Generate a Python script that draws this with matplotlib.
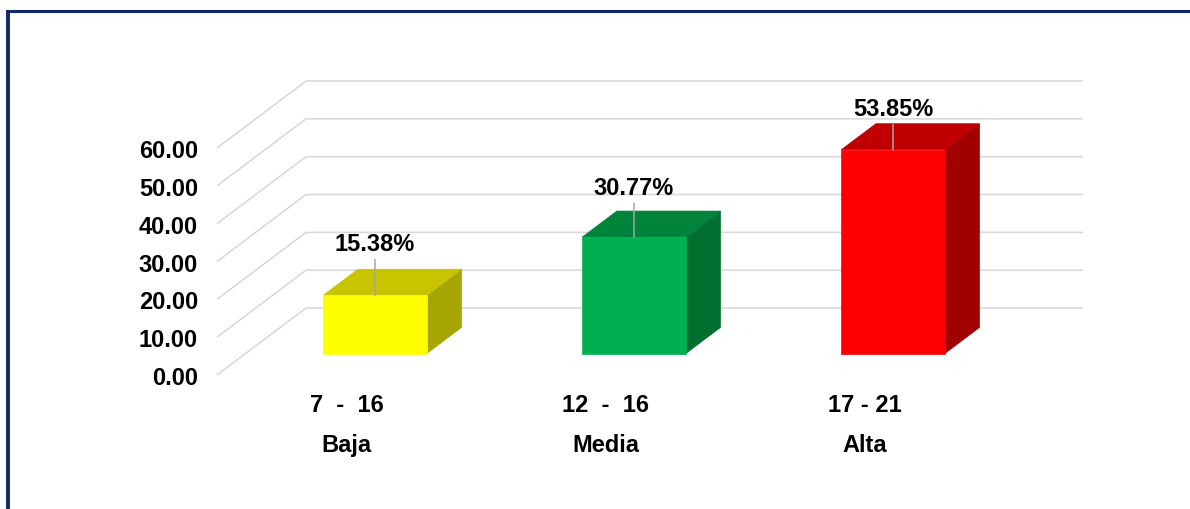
import matplotlib.pyplot as plt
from matplotlib.patches import Polygon
from matplotlib.lines import Line2D

plt.rcParams['font.family'] = ['Liberation Sans', 'DejaVu Sans']
plt.rcParams['font.weight'] = 'bold'

# datos del grafico
rangos = ['7  -  16', '12  -  16', '17 - 21']
niveles = ['Baja', 'Media', 'Alta']
porcentajes = [15.38, 30.77, 53.85]
yticks = [0, 10, 20, 30, 40, 50, 60]

# colores: frente, tapa, lateral
caras = [('#FFFF00', '#C8C400', '#A6A600'),
         ('#00B050', '#00843C', '#006F30'),
         ('#FF0000', '#C00000', '#A00000')]

PX = 72 / 100.0          # pixeles -> puntos
DX, DY = 0.3436, 17.7    # desplazamiento de profundidad (categoria, valor)
D0, D1 = 0.32, 0.71      # profundidad de las barras
ANCHO = 0.4
alto_etiqueta = [45, 43, 35]   # px sobre la tapa frontal


def P(x, v, d):
    return (x + d * DX, v + d * DY)


fig = plt.figure(figsize=(11.9, 5.1), dpi=100)
ax = fig.add_axes([217 / 1190, (510 - 376) / 510, 777 / 1190, 227 / 510])
ax.set_xlim(0, 3)
ax.set_ylim(0, 60)
ax.set_facecolor('none')
for s in ax.spines.values():
    s.set_visible(False)
ax.set_xticks([])
ax.set_yticks(yticks)
ax.set_yticklabels([f'{t:.2f}' for t in yticks])
ax.tick_params(axis='y', length=0, pad=19 * PX, labelsize=17)

# lineas de cuadricula (suelo lateral + pared del fondo)
for v in yticks:
    ax.plot([0, DX, 3 + DX], [v, v + DY, v + DY], color='#D9D9D9',
            lw=1.2, clip_on=False, zorder=1, solid_capstyle='butt')

# barras 3D
for i, p in enumerate(porcentajes):
    x0 = i + 0.5 - ANCHO / 2
    x1 = i + 0.5 + ANCHO / 2
    frente, tapa, lado = caras[i]
    lat = [P(x1, 0, D0), P(x1, p, D0), P(x1, p, D1), P(x1, 0, D1)]
    top = [P(x0, p, D0), P(x1, p, D0), P(x1, p, D1), P(x0, p, D1)]
    fr = [P(x0, 0, D0), P(x1, 0, D0), P(x1, p, D0), P(x0, p, D0)]
    for pts, c in ((lat, lado), (top, tapa), (fr, frente)):
        ax.add_patch(Polygon(pts, closed=True, facecolor=c, edgecolor=c,
                             lw=0.5, clip_on=False, zorder=3))

    # etiqueta de datos con linea guia
    ancla = P(i + 0.5, p, D0)
    h = alto_etiqueta[i]
    ax.annotate('', xy=ancla, xytext=(0, (h - 9) * PX), textcoords='offset points',
                arrowprops=dict(arrowstyle='-', color='#A6A6A6', lw=1.1,
                                shrinkA=0, shrinkB=0),
                annotation_clip=False, zorder=4)
    ax.annotate(f'{p:.2f}%', xy=ancla, xytext=(0, h * PX), textcoords='offset points',
                ha='center', va='baseline', fontsize=17, color='black',
                annotation_clip=False, zorder=5)

# etiquetas de categoria (dos niveles)
for i in range(len(rangos)):
    ax.annotate(rangos[i], xy=(i + 0.5, 0), xytext=(0, -36 * PX),
                textcoords='offset points', ha='center', va='baseline',
                fontsize=17, annotation_clip=False)
    ax.annotate(niveles[i], xy=(i + 0.5, 0), xytext=(0, -76 * PX),
                textcoords='offset points', ha='center', va='baseline',
                fontsize=17, annotation_clip=False)

# marco
borde = '#0F2A6B'
fig.add_artist(Line2D([8 / 1190, 1], [1 - 11.5 / 510] * 2, color=borde, lw=2.2,
                      transform=fig.transFigure, solid_capstyle='butt'))
fig.add_artist(Line2D([8 / 1190] * 2, [0, 1 - 10.5 / 510], color=borde, lw=2.8,
                      transform=fig.transFigure, solid_capstyle='butt'))

fig.savefig('out.png', dpi=100)
